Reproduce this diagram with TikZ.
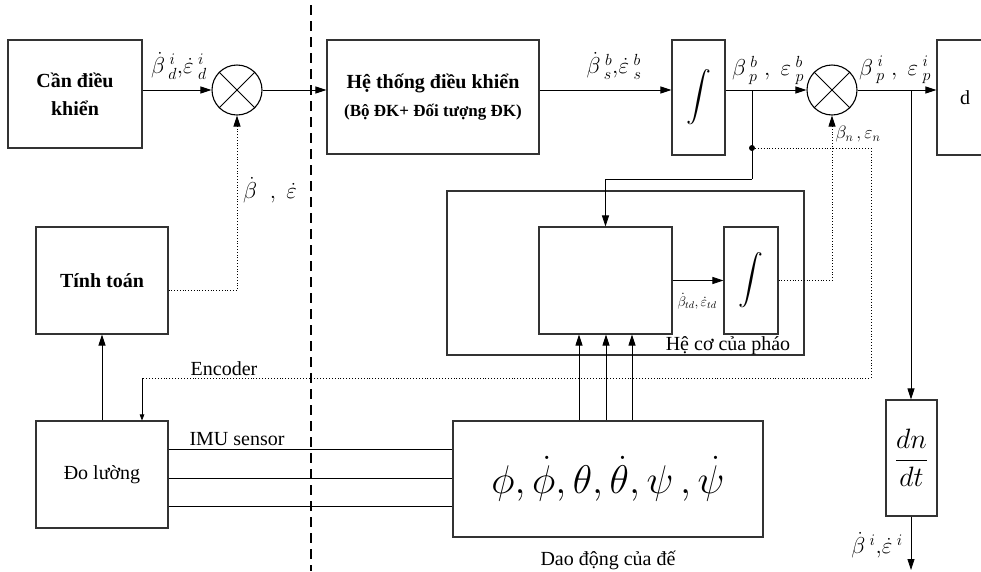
\documentclass[tikz,border=0pt]{standalone}
\usepackage{fix-cm}
\usepackage{exscale}
\usepackage{fontspec}
\setmainfont{Liberation Serif}
\usetikzlibrary{positioning,arrows.meta}

\begin{document}
\begin{tikzpicture}[
x=1pt,y=-1pt,
font=\fontsize{20}{28}\selectfont,
box/.style={
rectangle,
draw=black!80,
line width=1.1pt,
inner sep=0pt,
align=center
},
sum/.style={
circle,
draw=black,
line width=1.1pt,
minimum size=50pt,
inner sep=0pt
},
arrow/.style={
-{Triangle[length=11pt,width=7pt]},
line width=0.8pt
},
smallarrow/.style={
-{Triangle[length=6pt,width=4.5pt]},
line width=0.8pt
},
link/.style={line width=0.8pt},
dotline/.style={dotted,line width=0.9pt},
lbl/.style={inner sep=0pt},
mlbl/.style={inner sep=0pt,font=\fontsize{23}{26}\selectfont},
intg/.style={font=\fontsize{30}{32}\selectfont}
]
\useasboundingbox (0,0) rectangle (981,571);

% dashed divider
\coordinate (divtop) at (311,5);
\coordinate (divbot) at (311,571);
\draw[dash pattern=on 10pt off 6pt,line width=1.4pt] (divtop) -- (divbot);

% upper chain
\node[box,minimum width=134pt,minimum height=108pt] (can) at (75,94) {\textbf{Cần điều}\\\textbf{khiển}};
\node[sum] (sum1) at (237,90) {};
\node[box,minimum width=212pt,minimum height=114pt] (htdk) at (433,97)
  {\textbf{Hệ thống điều khiển}\\{\fontsize{17}{20}\selectfont\textbf{(Bộ ĐK+ Đối tượng ĐK)}}};
\node[box,intg,minimum width=53pt,minimum height=115pt] (int1) at (698.5,97.5) {$\displaystyle\int$};
\node[sum] (sum2) at (832,90) {};
\node[box,minimum width=56pt,minimum height=115pt] (dbox) at (965,97.5) {d};

\draw[link] (sum1.north west) -- (sum1.south east);
\draw[link] (sum1.north east) -- (sum1.south west);
\draw[link] (sum2.north west) -- (sum2.south east);
\draw[link] (sum2.north east) -- (sum2.south west);

% left column
\node[box,minimum width=132pt,minimum height=107pt] (tinh) at (102,280.5) {\textbf{Tính toán}};
\node[box,minimum width=132pt,minimum height=107pt] (dolg) at (102,474.5) {Đo lường};

% gun mechanics
\node[box,minimum width=357pt,minimum height=164pt] (heco) at (625.5,273) {};
\node[box,minimum width=133pt,minimum height=107pt] (inner) at (605.5,280.5) {};
\node[box,intg,minimum width=54pt,minimum height=107pt] (int2) at (751,280.5) {$\displaystyle\int$};
\node[lbl,anchor=south] (hecolbl) at (728,355) {Hệ cơ của pháo};

% base motion and derivative
\node[box,minimum width=310pt,minimum height=116pt,font=\fontsize{40}{44}\selectfont] (daodong) at (608,479)
  {$\phi,\dot{\phi},\theta,\dot{\theta},\psi\,,\dot{\psi}$};
\node[lbl] (ddlbl) at (608,560) {Dao động của đế};
\node[box,minimum width=51pt,minimum height=116pt,font=\fontsize{28}{30}\selectfont] (dndt) at (911.5,458) {$\displaystyle\frac{dn}{dt}$};

% helper points
\coordinate (j1) at (752,90);
\coordinate (dot) at (752,148);
\coordinate (j2) at (752,179);
\coordinate (e2) at (871,378);
\coordinate (enc) at (142,378);
\coordinate (j4) at (911,90);
\coordinate (out) at (911,570);

% connectors
\draw[arrow] (can.east |- sum1.west) -- (sum1.west);
\draw[arrow] (sum1.east) -- (sum1.east -| htdk.west);
\draw[arrow] (htdk.east |- sum1.east) -- (int1.west |- sum1.east);
\draw[arrow] (int1.east |- sum2.west) -- (sum2.west);
\draw[arrow] (sum2.east) -- (sum2.east -| dbox.west);
\draw[link] (j1) -- (j2);
\draw[arrow] (j2) -| (inner.north);
\fill (dot) circle (3pt);
\draw[dotline] (dot) -| (e2) -- (enc);
\draw[smallarrow] (enc) -- (enc |- dolg.north);
\draw[dotline,arrow] (int2.east) -| (sum2.south);
\draw[arrow] (inner.east) -- (int2.west);
\draw[dotline,arrow] ([yshift=-10pt]tinh.east) -| (sum1.south);
\draw[arrow] (dolg.north) -- (tinh.south);
\foreach \yy in {449,478,506}
  \draw[link] (dolg.east |- 0,\yy) -- (daodong.west |- 0,\yy);
\foreach \xx in {579,606,632}
  \draw[arrow] (daodong.north -| \xx,0) -- (inner.south -| \xx,0);
\draw[arrow] (j4) -- (j4 |- dndt.north);
\draw[arrow] (dndt.south -| out) -- (out);

% signal labels
\node[mlbl] (l1) at (179,66) {$\dot{\beta}^{\;i}_{\;d}{,}\dot{\varepsilon}^{\;i}_{\;d}$};
\node[mlbl] (l2) at (270,190) {$\dot{\beta}\;\;,\;\dot{\varepsilon}$};
\node[mlbl] (l3) at (614,66) {$\dot{\beta}^{\;b}_{\;s}{,}\dot{\varepsilon}^{\;b}_{\;s}$};
\node[mlbl] (l4) at (768,70) {$\beta^{\;b}_{\;p}\;,\;\varepsilon^{\;b}_{\;p}$};
\node[mlbl] (l5) at (895,70) {$\beta^{\;i}_{\;p}\;,\;\varepsilon^{\;i}_{\;p}$};
\node[lbl,font=\fontsize{18}{20}\selectfont] (l6) at (858,134) {$\beta_n\,,\varepsilon_n$};
\node[lbl,font=\fontsize{14}{16}\selectfont] (l7) at (697,301) {$\dot{\beta}_{td},\dot{\varepsilon}_{td}$};
\node[mlbl] (l8) at (877,545) {$\dot{\beta}^{\;i}{,}\dot{\varepsilon}^{\;i}$};
\node[lbl] (enclbl) at (224,369) {Encoder};
\node[lbl] (imulbl) at (237,439) {IMU sensor};

\end{tikzpicture}
\end{document}
